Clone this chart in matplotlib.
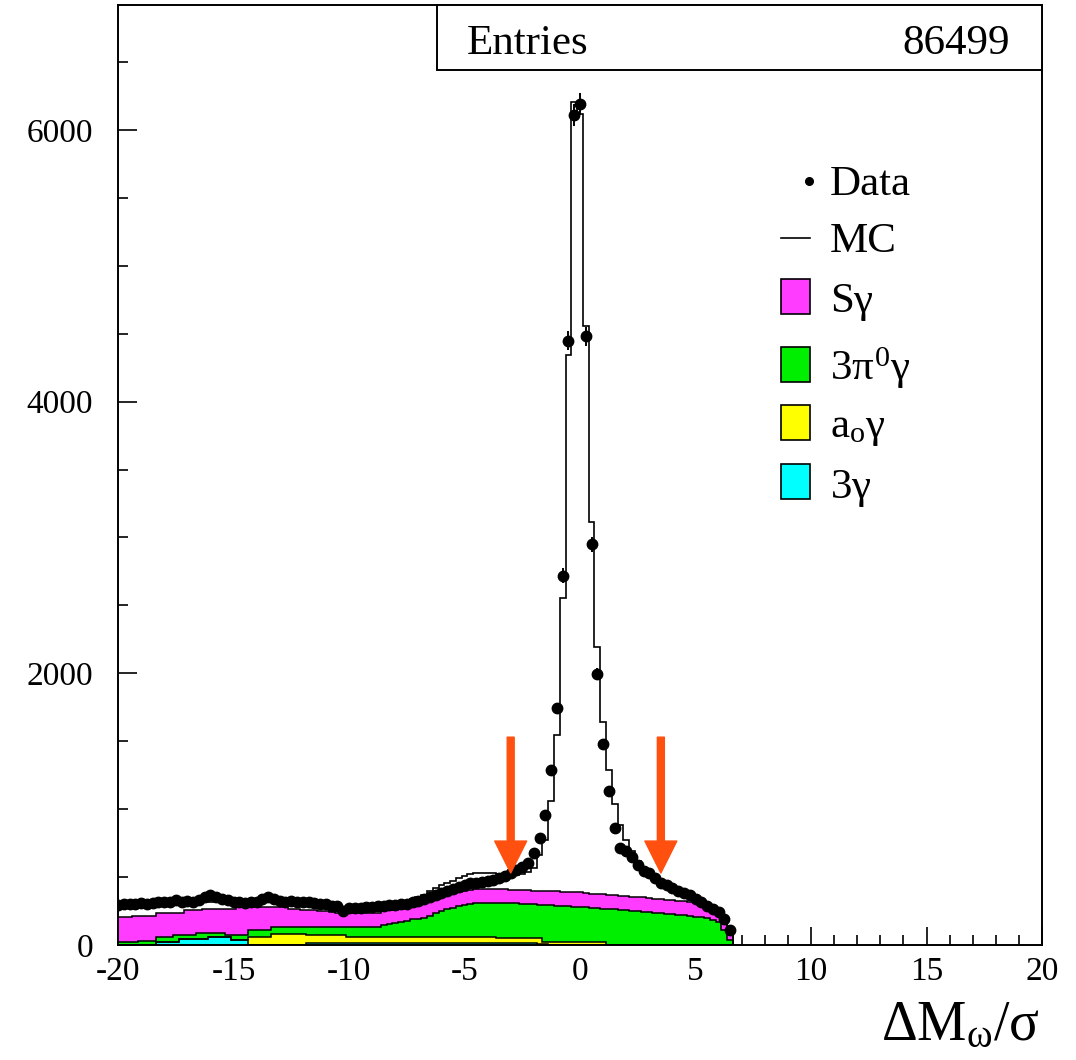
import numpy as np
import matplotlib
matplotlib.use('Agg')
import matplotlib.pyplot as plt
from matplotlib.patches import Rectangle
from matplotlib.lines import Line2D

plt.rcParams['font.family'] = ['Liberation Serif', 'DejaVu Serif']
plt.rcParams['mathtext.fontset'] = 'custom'
plt.rcParams['mathtext.rm'] = 'Liberation Serif'
plt.rcParams['mathtext.it'] = 'Liberation Serif'
plt.rcParams['axes.unicode_minus'] = False

# ---- data (bins 0.25 wide, centres -20 ... 6.5)
bin_first = -20.125
bin_w = 0.25

data = [
    295, 300, 305, 300,      # -20
    310, 305, 310, 320,      # -19
    315, 320, 330, 320,      # -18
    325, 320, 330, 355,      # -17
    365, 350, 340, 330,      # -16
    320, 315, 310, 315,      # -15
    320, 340, 350, 335,      # -14
    325, 320, 325, 318,      # -13
    320, 315, 310, 305,      # -12
    300, 290, 285, 250,      # -11
    270, 270, 275, 280,      # -10
    280, 285, 290, 295,      # -9
    295, 300, 305, 315,      # -8
    325, 335, 350, 365,      # -7
    380, 400, 415, 430,      # -6
    445, 455, 460, 465,      # -5
    470, 478, 490, 505,      # -4
    529, 551, 575, 600,      # -3
    676, 787, 956, 1287,     # -2
    1743, 2720, 4450, 6110,  # -1
    6190, 4480, 2950, 1993,  # 0
    1478, 1132, 860, 713,    # 1
    690, 650, 590, 545,      # 2
    530, 490, 456, 441,      # 3
    419, 395, 385, 365,      # 4
    340, 315, 290, 265,      # 5
    240, 195, 110,           # 6
]

mc = [
    280, 280, 285, 280,
    285, 280, 285, 295,
    295, 300, 300, 295,
    300, 305, 315, 320,
    320, 315, 315, 305,
    305, 300, 300, 305,
    305, 315, 320, 315,
    310, 305, 305, 305,
    300, 300, 295, 295,
    290, 285, 285, 280,
    280, 280, 280, 285,
    285, 290, 290, 295,
    300, 310, 320, 335,
    350, 370, 395, 420,
    440, 455, 470, 490,
    510, 525, 530, 530,
    530, 528, 525, 520,
    515, 515, 520, 535,
    570, 660, 772, 1061,
    1544, 2556, 4346, 6206,
    6120, 4559, 3113, 2193,
    1642, 1287, 1037, 882,
    770, 690, 620, 575,
    545, 515, 480, 460,
    440, 415, 400, 380,
    355, 330, 305, 280,
    250, 200, 120,
]

# stacked heights as drawn: 3g, +a0g, +3pi0g, +Sg
stack_3g = [
    0, 0, 0, 0,
    0, 0, 0, 22,
    22, 22, 22, 44,
    44, 44, 44, 44,
    61, 61, 61, 61,
    37, 37, 37, 0,
    0, 0, 0, 0,
    0, 0, 0, 0,
    0, 12, 12, 12,
    12, 12, 12, 12,
    12, 12, 12, 12,
    12, 12, 12, 12,
    12, 12, 12, 12,
    12, 12, 12, 12,
    12, 12, 12, 12,
    12, 12, 12, 12,
    12, 12, 12, 12,
    12, 12, 12, 12,
    12, 10, 10, 0,
    0, 0, 0, 0,
    0, 0, 0, 0,
    0, 0, 0, 0,
    0, 0, 0, 0,
    0, 0, 0, 0,
    0, 0, 0, 0,
    0, 0, 0, 0,
    0, 0, 0,
]

stack_a0g = [
    0, 0, 0, 0,
    0, 0, 0, 22,
    22, 22, 22, 44,
    44, 44, 44, 44,
    61, 61, 61, 61,
    37, 37, 37, 61,
    61, 61, 61, 78,
    78, 78, 78, 78,
    78, 73, 73, 73,
    73, 73, 73, 73,
    61, 61, 61, 61,
    56, 56, 56, 56,
    56, 56, 56, 56,
    56, 56, 56, 56,
    56, 56, 56, 56,
    56, 56, 56, 56,
    56, 56, 54, 52,
    52, 52, 52, 52,
    52, 50, 24, 24,
    24, 24, 24, 24,
    24, 24, 24, 24,
    24, 0, 0, 0,
    0, 0, 0, 0,
    0, 0, 0, 0,
    0, 0, 0, 0,
    0, 0, 0, 0,
    0, 0, 0,
]

stack_3pi0g = [
    24, 24, 24, 24,
    32, 32, 32, 56,
    56, 56, 73, 73,
    73, 73, 91, 91,
    91, 91, 91, 73,
    73, 73, 73, 110,
    110, 110, 110, 130,
    130, 130, 130, 130,
    130, 130, 130, 130,
    130, 130, 130, 135,
    135, 135, 135, 135,
    135, 135, 147, 155,
    165, 172, 180, 188,
    195, 202, 210, 238,
    250, 262, 275, 285,
    294, 300, 306, 309,
    311, 311, 310, 309,
    309, 307, 305, 302,
    300, 298, 295, 292,
    290, 288, 286, 283,
    280, 278, 275, 272,
    268, 265, 262, 258,
    255, 252, 248, 245,
    240, 236, 232, 228,
    225, 222, 218, 214,
    209, 203, 196, 185,
    170, 110, 40,
]

stack_sg = [
    208, 208, 208, 216,
    216, 216, 216, 235,
    235, 235, 235, 235,
    260, 260, 260, 265,
    265, 265, 265, 265,
    265, 279, 279, 279,
    279, 279, 279, 279,
    279, 279, 265, 265,
    260, 260, 255, 250,
    250, 245, 235, 235,
    235, 235, 235, 235,
    235, 235, 257, 257,
    257, 280, 294, 303,
    310, 316, 325, 353,
    362, 372, 380, 388,
    395, 405, 410, 413,
    415, 415, 412, 412,
    408, 405, 403, 402,
    400, 398, 396, 395,
    394, 392, 391, 390,
    388, 382, 378, 375,
    372, 370, 367, 364,
    360, 357, 353, 350,
    346, 342, 338, 334,
    330, 326, 322, 316,
    310, 300, 285, 265,
    225, 175, 110,
]

cut_positions = [-3.0, 3.5]
entries = 86499

W, H = 1076, 1060
def fx(px):
    return px / W
def fy(py):
    return 1 - py / H

fig = plt.figure(figsize=(W / 100, H / 100), dpi=100)
ax = fig.add_axes([fx(118), fy(945), fx(1042) - fx(118), fy(5) - fy(945)])

n = len(data)
edges = bin_first + bin_w * np.arange(n + 1)
centres = 0.5 * (edges[:-1] + edges[1:])

# stacked backgrounds, drawn top layer first, each filled from 0
layers = [(stack_sg, '#ff3cff'), (stack_3pi0g, '#00ee00'),
          (stack_a0g, '#ffff00'), (stack_3g, '#00ffff')]
for vals, col in layers:
    ax.stairs(vals, edges, baseline=0, fill=True, color=col, zorder=2)
    ax.stairs(vals, edges, baseline=0, color='black', lw=1.1, zorder=3)

# MC
ax.stairs(mc, edges, baseline=0, color='black', lw=1.2, zorder=4)

# data
data_a = np.array(data, dtype=float)
ax.errorbar(centres, data_a, yerr=np.sqrt(data_a), fmt='o', color='black',
            ms=7.5, elinewidth=1.4, capsize=0, zorder=5)

# cut arrows
for xc in cut_positions:
    ax.annotate('', xy=(xc, 530), xytext=(xc, 1530),
                arrowprops=dict(width=5, headwidth=23, headlength=23,
                                color='#ff5010', shrink=0), zorder=6)

ax.set_xlim(-20, 20)
ax.set_ylim(0, 6920)
ax.set_xticks([-20, -15, -10, -5, 0, 5, 10, 15, 20])
ax.set_xticks(np.arange(-20, 21, 1), minor=True)
ax.set_yticks([0, 2000, 4000, 6000])
ax.set_yticks(np.arange(0, 6901, 500), minor=True)
ax.tick_params(axis='both', which='both', direction='in', width=1.2,
               top=False, right=False, labelsize=24)
ax.tick_params(axis='x', which='major', length=13, pad=8)
ax.tick_params(axis='x', which='minor', length=7)
ax.tick_params(axis='y', which='major', length=14, pad=18)
ax.tick_params(axis='y', which='minor', length=7)
for s in ax.spines.values():
    s.set_linewidth(1.4)

# stats box
fig.patches.append(Rectangle((fx(437), fy(70)), fx(1042) - fx(437), fy(5) - fy(70),
                             transform=fig.transFigure, facecolor='white',
                             edgecolor='black', lw=1.4, zorder=10))
fig.text(fx(467), fy(54), 'Entries', fontsize=31, va='baseline', ha='left', zorder=11)
fig.text(fx(1010), fy(54), str(entries), fontsize=31, va='baseline', ha='right', zorder=11)

# legend
fig.add_artist(Line2D([fx(809)], [fy(181)], marker='o', ms=5.5, color='black'))
fig.add_artist(Line2D([fx(781), fx(810)], [fy(237.5), fy(237.5)], color='black', lw=1.2))
leg_boxes = [(279, '#ff3cff'), (347, '#00ee00'), (405, '#ffff00'), (464, '#00ffff')]
for ytop, col in leg_boxes:
    fig.patches.append(Rectangle((fx(781), fy(ytop + 35)), fx(810) - fx(781), fy(ytop) - fy(ytop + 35),
                                 transform=fig.transFigure, facecolor=col,
                                 edgecolor='black', lw=1.2))
leg_text = [(195, 'Data'), (252, 'MC'), (312, r'S$\gamma$'),
            (380, r'3$\pi^{0}\gamma$'), (437, r'a$_{o}\gamma$'), (498, r'3$\gamma$')]
for yb, t in leg_text:
    fig.text(fx(830), fy(yb), t, fontsize=31, va='baseline', ha='left')

# axis title
fig.text(fx(1040), fy(1040), r'$\Delta\mathrm{M}_{\omega}/\sigma$', fontsize=40,
         ha='right', va='baseline')

fig.savefig('out.png', dpi=100)
